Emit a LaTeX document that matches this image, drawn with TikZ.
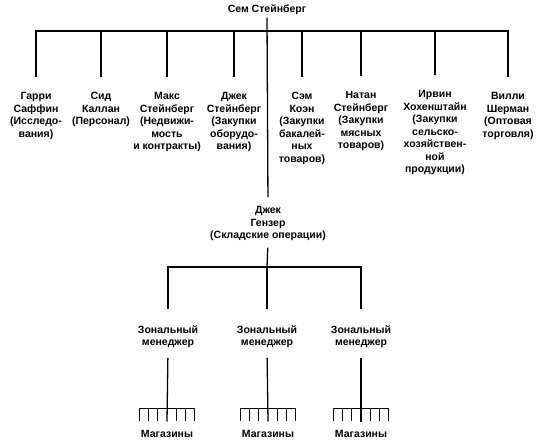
\documentclass[tikz,border=0pt]{standalone}
\usepackage{fontspec}
\setmainfont{Liberation Sans}
\begin{document}
\begin{tikzpicture}[x=1pt,y=-1pt,line width=1.3pt,
  lbl/.style={font=\fontsize{10.5}{12.5}\selectfont\bfseries,align=center,inner sep=0pt,anchor=north},
  tick/.style={line width=1pt}]
\useasboundingbox (0,0) rectangle (545,446);
% top
\node[lbl,anchor=base,inner sep=2pt] (ss) at (267,12.8) {Сем Стейнберг};
% departments
\node[lbl] (d1) at (36,92) {Гарри\\Саффин\\(Исследо-\\вания)};
\node[lbl] (d2) at (101,92) {Сид\\Каллан\\(Персонал)};
\node[lbl] (d3) at (167,92) {Макс\\Стейнберг\\(Недвижи-\\мость\\и контракты)};
\node[lbl] (d4) at (234,92) {Джек\\Стейнберг\\(Закупки\\оборудо-\\вания)};
\node[lbl] (d5) at (302,92) {Сэм\\Коэн\\(Закупки\\бакалей-\\ных\\товаров)};
\node[lbl] (d6) at (361,91) {Натан\\Стейнберг\\(Закупки\\мясных\\товаров)};
\node[lbl] (d7) at (435,90) {Ирвин\\Хохенштайн\\(Закупки\\сельско-\\хозяйствен-\\ной\\продукции)};
\node[lbl] (d8) at (508,92) {Вилли\\Шерман\\(Оптовая\\торговля)};
\coordinate (tb) at (267,31);
\draw ([yshift=15pt]d1.north) -- (d1.north |- tb) -- (d8.north |- tb) -- ([yshift=15pt]d8.north);
\foreach \d in {d2,d3,d4,d5,d6,d7}
  \draw (\d.north |- tb) -- ([yshift=15pt]\d.north);
% warehouse
\node[lbl] (jg) at (268,206) {Джек\\Гензер\\(Складские операции)};
\draw[shorten >=9pt] (ss.south) -- (jg.north);
\coordinate (zb) at (267,267);
% zone managers
\node[lbl] (zm1) at (168,325) {Зональный\\менеджер};
\node[lbl] (zm2) at (267,325) {Зональный\\менеджер};
\node[lbl] (zm3) at (361,325) {Зональный\\менеджер};
\draw[shorten <=6pt] (jg.south) -- (zb);
\draw ([yshift=16pt]zm1.north) -- (zm1.north |- zb) -- (zm3.north |- zb) -- ([yshift=16pt]zm3.north);
\draw (zb) -- ([yshift=16pt]zm2.north);
% stores
\node[lbl] (m1) at (167,429.5) {Магазины};
\node[lbl] (m2) at (268,429.5) {Магазины};
\node[lbl] (m3) at (361,429.5) {Магазины};
\foreach \z/\m in {zm1/m1,zm2/m2,zm3/m3}{
  \draw[shorten <=9pt] (\z.south) -- ([yshift=8pt]\m.north);
  \coordinate (k) at ([yshift=21pt]\m.north);
  \draw ([xshift=-28pt]k) -- ([xshift=28pt]k);
  \foreach \i in {-3,-2,-1,1,2,3}
    \draw[tick] ([xshift=\i*9.33pt]k) -- ++(0,12.5);
}
\end{tikzpicture}
\end{document}
